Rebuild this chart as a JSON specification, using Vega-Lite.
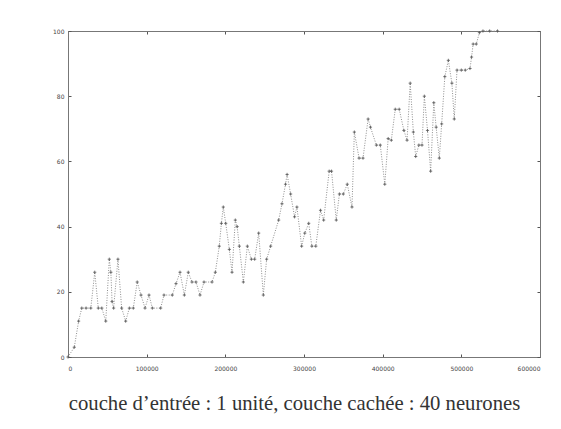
{
  "$schema": "https://vega.github.io/schema/vega-lite/v6.json",
  "width": 472,
  "height": 326,
  "autosize": {"type": "none"},
  "padding": {"left": 68, "top": 31, "right": 21, "bottom": 72},
  "background": "white",
  "config": {
    "view": {"stroke": "#777", "strokeWidth": 1},
    "axis": {
      "domainColor": "#777",
      "tickColor": "#555",
      "grid": false,
      "labelFont": "DejaVu Sans",
      "labelFontSize": 6,
      "labelColor": "#444",
      "tickSize": -3
    }
  },
  "data": {
    "values": [
      {"iteration": 0, "score": 0},
      {"iteration": 8000, "score": 3},
      {"iteration": 13500, "score": 11},
      {"iteration": 17500, "score": 15},
      {"iteration": 23000, "score": 15},
      {"iteration": 29000, "score": 15},
      {"iteration": 34000, "score": 26},
      {"iteration": 38500, "score": 15},
      {"iteration": 43000, "score": 15},
      {"iteration": 48000, "score": 11},
      {"iteration": 52500, "score": 30},
      {"iteration": 54500, "score": 26},
      {"iteration": 56000, "score": 17},
      {"iteration": 58000, "score": 15},
      {"iteration": 63500, "score": 30},
      {"iteration": 68200, "score": 15},
      {"iteration": 73300, "score": 11},
      {"iteration": 78000, "score": 15},
      {"iteration": 83000, "score": 15},
      {"iteration": 88000, "score": 23},
      {"iteration": 92800, "score": 19},
      {"iteration": 97900, "score": 15},
      {"iteration": 103000, "score": 19},
      {"iteration": 107200, "score": 15},
      {"iteration": 117800, "score": 15},
      {"iteration": 122000, "score": 19},
      {"iteration": 132600, "score": 19},
      {"iteration": 137300, "score": 22.5},
      {"iteration": 142400, "score": 26},
      {"iteration": 147900, "score": 19},
      {"iteration": 152900, "score": 26},
      {"iteration": 157600, "score": 23},
      {"iteration": 162700, "score": 23},
      {"iteration": 167800, "score": 19},
      {"iteration": 172900, "score": 23},
      {"iteration": 183100, "score": 23},
      {"iteration": 187300, "score": 26},
      {"iteration": 192300, "score": 34},
      {"iteration": 195000, "score": 41},
      {"iteration": 197400, "score": 46},
      {"iteration": 200500, "score": 41},
      {"iteration": 205100, "score": 33},
      {"iteration": 208500, "score": 26},
      {"iteration": 212700, "score": 42},
      {"iteration": 215000, "score": 40},
      {"iteration": 217800, "score": 34},
      {"iteration": 222900, "score": 23},
      {"iteration": 228000, "score": 34},
      {"iteration": 233100, "score": 30},
      {"iteration": 237300, "score": 30},
      {"iteration": 242400, "score": 38},
      {"iteration": 248300, "score": 19},
      {"iteration": 252500, "score": 30},
      {"iteration": 257600, "score": 34},
      {"iteration": 267800, "score": 42},
      {"iteration": 272000, "score": 47},
      {"iteration": 276500, "score": 53},
      {"iteration": 278500, "score": 56},
      {"iteration": 283000, "score": 50},
      {"iteration": 288000, "score": 43},
      {"iteration": 291000, "score": 46},
      {"iteration": 297000, "score": 34},
      {"iteration": 301000, "score": 38},
      {"iteration": 306000, "score": 41},
      {"iteration": 310000, "score": 34},
      {"iteration": 315000, "score": 34},
      {"iteration": 321000, "score": 45},
      {"iteration": 325000, "score": 42},
      {"iteration": 332000, "score": 57},
      {"iteration": 335000, "score": 57},
      {"iteration": 341000, "score": 42},
      {"iteration": 345000, "score": 50},
      {"iteration": 350000, "score": 50},
      {"iteration": 355000, "score": 53},
      {"iteration": 361000, "score": 46},
      {"iteration": 364000, "score": 69},
      {"iteration": 370000, "score": 61},
      {"iteration": 375000, "score": 61},
      {"iteration": 381500, "score": 73},
      {"iteration": 384500, "score": 70.5},
      {"iteration": 392000, "score": 65},
      {"iteration": 397000, "score": 65},
      {"iteration": 402700, "score": 53},
      {"iteration": 407000, "score": 67},
      {"iteration": 411000, "score": 66.5},
      {"iteration": 416000, "score": 76},
      {"iteration": 421000, "score": 76},
      {"iteration": 427000, "score": 69.5},
      {"iteration": 431000, "score": 66.5},
      {"iteration": 435000, "score": 84},
      {"iteration": 439000, "score": 69},
      {"iteration": 442000, "score": 61.5},
      {"iteration": 446000, "score": 65},
      {"iteration": 450000, "score": 65},
      {"iteration": 453000, "score": 80},
      {"iteration": 457000, "score": 69.5},
      {"iteration": 461000, "score": 57},
      {"iteration": 465000, "score": 78},
      {"iteration": 468000, "score": 70.5},
      {"iteration": 472000, "score": 61},
      {"iteration": 475000, "score": 71.5},
      {"iteration": 479000, "score": 86},
      {"iteration": 483500, "score": 91},
      {"iteration": 488000, "score": 84},
      {"iteration": 491000, "score": 73},
      {"iteration": 494500, "score": 88},
      {"iteration": 500000, "score": 88},
      {"iteration": 505000, "score": 88},
      {"iteration": 511000, "score": 88.5},
      {"iteration": 513000, "score": 92},
      {"iteration": 515000, "score": 96},
      {"iteration": 519000, "score": 96},
      {"iteration": 523000, "score": 99.5},
      {"iteration": 527500, "score": 100},
      {"iteration": 536000, "score": 100},
      {"iteration": 546000, "score": 100}
    ]
  },
  "layer": [
    {
      "mark": {"type": "line", "color": "#8f8f8f", "strokeWidth": 1, "strokeDash": [1, 1.5]},
      "encoding": {
        "x": {
          "field": "iteration",
          "type": "quantitative",
          "scale": {"domain": [0, 600000], "nice": false, "zero": false},
          "axis": {
            "values": [0, 100000, 200000, 300000, 400000, 500000, 600000],
            "format": "d",
            "labelPadding": 11,
            "title": "couche d’entrée : 1 unité, couche cachée : 40 neurones",
            "titleFont": "Liberation Serif",
            "titleFontSize": 20.7,
            "titleFontWeight": "normal",
            "titleColor": "#333",
            "titlePadding": 22,
            "titleX": 226
          }
        },
        "y": {
          "field": "score",
          "type": "quantitative",
          "scale": {"domain": [0, 100], "nice": false},
          "axis": {
            "values": [0, 20, 40, 60, 80, 100],
            "labelPadding": 7,
            "title": null
          }
        }
      }
    },
    {
      "mark": {"type": "point", "shape": "M-1,0H1M0,-1V1", "filled": false, "color": "#555", "strokeWidth": 0.8, "size": 10, "opacity": 1},
      "encoding": {
        "x": {
          "field": "iteration",
          "type": "quantitative",
          "axis": {
            "orient": "top",
            "values": [0, 100000, 200000, 300000, 400000, 500000, 600000],
            "labels": false,
            "title": null
          }
        },
        "y": {
          "field": "score",
          "type": "quantitative",
          "axis": {
            "orient": "right",
            "values": [0, 20, 40, 60, 80, 100],
            "labels": false,
            "title": null
          }
        }
      }
    }
  ],
  "resolve": {"axis": {"x": "independent", "y": "independent"}}
}
